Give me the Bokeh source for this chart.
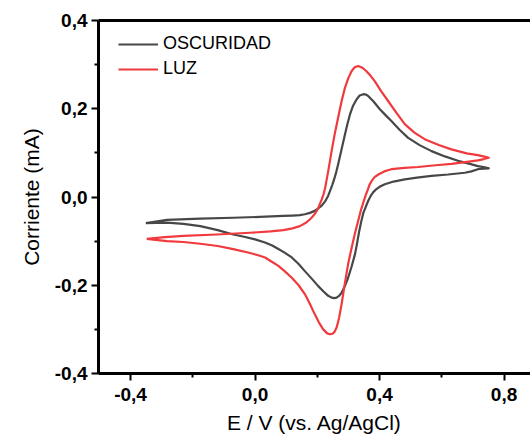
from bokeh.plotting import figure
from bokeh.models import LinearAxis, FixedTicker, CustomJSTickFormatter, Range1d
from bokeh.embed import file_html
from bokeh.resources import INLINE

# ---- data (E vs Ag/AgCl in V, current in mA) ----
dark_e = [-0.351, -0.283, -0.176, -0.070, 0.016, 0.090, 0.120, 0.144, 0.160, 0.176,
          0.190, 0.203, 0.215, 0.225,
          0.235, 0.241, 0.248, 0.255, 0.261, 0.267, 0.278, 0.289, 0.297, 0.305,
          0.315, 0.326, 0.336, 0.348, 0.357, 0.365, 0.380, 0.401, 0.420, 0.438,
          0.465, 0.492, 0.530, 0.567, 0.610, 0.652, 0.690, 0.716, 0.738, 0.751,
          0.735, 0.716, 0.695, 0.674, 0.620, 0.567, 0.520, 0.481, 0.445, 0.417,
          0.400, 0.390, 0.380, 0.372, 0.364, 0.356, 0.348, 0.341, 0.334, 0.327,
          0.321, 0.310, 0.299, 0.288, 0.278, 0.270, 0.262, 0.254, 0.246, 0.235,
          0.220, 0.203, 0.182, 0.160, 0.140, 0.118, 0.095, 0.075, 0.055, 0.032,
          0.000, -0.035, -0.070, -0.120, -0.176, -0.230, -0.283, -0.351]
dark_i = [-0.059, -0.052, -0.049, -0.047, -0.045, -0.043, -0.042, -0.041, -0.039, -0.036,
          -0.032, -0.026, -0.019, -0.010,
          0.003, 0.014, 0.027, 0.042, 0.057, 0.074, 0.108, 0.142, 0.166, 0.187,
          0.207, 0.221, 0.230, 0.233, 0.232, 0.228, 0.217, 0.199, 0.185, 0.172,
          0.152, 0.134, 0.117, 0.104, 0.092, 0.082, 0.075, 0.070, 0.067, 0.065,
          0.064, 0.063, 0.058, 0.055, 0.051, 0.048, 0.044, 0.040, 0.035, 0.029,
          0.023, 0.018, 0.011, 0.003, -0.008, -0.022, -0.036, -0.056, -0.080, -0.108,
          -0.130, -0.158, -0.183, -0.203, -0.217, -0.224, -0.228, -0.229, -0.228, -0.224,
          -0.214, -0.202, -0.185, -0.168, -0.152, -0.137, -0.126, -0.118, -0.110, -0.103,
          -0.096, -0.090, -0.085, -0.075, -0.066, -0.061, -0.058, -0.059]

luz_e = [-0.348, -0.290, -0.230, -0.123, -0.016, 0.050, 0.091, 0.120, 0.144, 0.162,
         0.176, 0.183, 0.190, 0.197, 0.203, 0.208, 0.214, 0.220, 0.225, 0.235,
         0.246, 0.256, 0.267, 0.278,
         0.289, 0.300, 0.310, 0.320, 0.331, 0.345, 0.358, 0.372, 0.385, 0.405,
         0.428, 0.455, 0.481, 0.512, 0.545, 0.590, 0.631, 0.680, 0.716, 0.740,
         0.751,
         0.735, 0.716, 0.675, 0.631, 0.580, 0.524, 0.480, 0.438, 0.415, 0.396,
         0.384, 0.375, 0.368, 0.362, 0.355, 0.348, 0.340, 0.331, 0.321, 0.310,
         0.299, 0.288, 0.278, 0.270, 0.262, 0.255, 0.248, 0.241, 0.232, 0.219,
         0.205, 0.192, 0.176, 0.160, 0.140, 0.118, 0.095, 0.075, 0.050, 0.032,
         0.010, -0.016, -0.070, -0.120, -0.176, -0.230, -0.283, -0.348]
luz_i = [-0.095, -0.091, -0.088, -0.085, -0.081, -0.078, -0.075, -0.071, -0.066, -0.059,
         -0.051, -0.046, -0.040, -0.033, -0.025, -0.016, -0.006, 0.006, 0.020, 0.058,
         0.104, 0.143, 0.180, 0.217,
         0.248, 0.270, 0.285, 0.294, 0.297, 0.293, 0.285, 0.274, 0.262, 0.240,
         0.217, 0.190, 0.165, 0.146, 0.131, 0.118, 0.108, 0.099, 0.095, 0.091,
         0.089,
         0.086, 0.083, 0.079, 0.075, 0.072, 0.068, 0.066, 0.063, 0.058, 0.051,
         0.045, 0.037, 0.028, 0.016, 0.003, -0.012, -0.030, -0.055, -0.082, -0.116,
         -0.152, -0.198, -0.243, -0.274, -0.296, -0.306, -0.310, -0.311, -0.309, -0.300,
         -0.284, -0.266, -0.242, -0.220, -0.200, -0.183, -0.168, -0.156, -0.145, -0.137,
         -0.132, -0.127, -0.118, -0.111, -0.106, -0.102, -0.100, -0.095]

x_ticks = [-0.4, 0.0, 0.4, 0.8]
x_minor = [-0.2, 0.2, 0.6]
y_ticks = [-0.4, -0.2, 0.0, 0.2, 0.4]
y_minor = [-0.3, -0.1, 0.1, 0.3]

DARK = "#474747"
RED = "#f03a3e"
FONT = "Liberation Sans"

p = figure(width=530, height=443, output_backend="svg", toolbar_location=None,
           x_range=Range1d(-0.503, 0.885), y_range=Range1d(-0.4, 0.4),
           min_border_left=98, min_border_right=0, min_border_top=20, min_border_bottom=70,
           x_axis_label="E / V (vs. Ag/AgCl)", y_axis_label="Corriente (mA)")
p.outline_line_color = None
p.xgrid.visible = False
p.ygrid.visible = False
p.background_fill_color = "white"
p.border_fill_color = "white"

p.line(dark_e, dark_i, line_color=DARK, line_width=2.2, line_join="round",
       legend_label="OSCURIDAD")
p.line(luz_e, luz_i, line_color=RED, line_width=2.2, line_join="round",
       legend_label="LUZ")

fmt = CustomJSTickFormatter(code="return tick.toFixed(1).replace('.', ',');")

for ax, ticks, minor in ((p.xaxis[0], x_ticks, x_minor), (p.yaxis[0], y_ticks, y_minor)):
    ax.ticker = FixedTicker(ticks=ticks, minor_ticks=minor)
    ax.formatter = fmt
    ax.axis_line_width = 3
    ax.axis_line_color = "black"
    ax.major_tick_line_width = 2
    ax.major_tick_line_color = "black"
    ax.minor_tick_line_width = 2
    ax.minor_tick_line_color = "black"
    ax.major_tick_out = 7
    ax.major_tick_in = 0
    ax.minor_tick_out = 4
    ax.minor_tick_in = 0
    ax.major_label_text_font = FONT
    ax.major_label_text_font_style = "bold"
    ax.major_label_text_font_size = "19px"
    ax.major_label_text_color = "black"
    ax.axis_label_text_font = FONT
    ax.axis_label_text_font_style = "normal"
    ax.axis_label_text_font_size = "21px"
    ax.axis_label_text_color = "black"

p.xaxis[0].major_label_standoff = 7
p.xaxis[0].axis_label_standoff = 7
p.yaxis[0].major_label_standoff = 4
p.yaxis[0].axis_label_standoff = 9

top = LinearAxis(ticker=FixedTicker(ticks=[]), axis_line_width=3, axis_line_color="black",
                 major_tick_line_color=None, minor_tick_line_color=None,
                 major_label_text_font_size="0px", major_label_standoff=0)
p.add_layout(top, "above")

lg = p.legend[0]
lg.location = (20, 294)
lg.padding = 0
lg.margin = 0
lg.spacing = 4
lg.glyph_width = 40
lg.glyph_height = 20
lg.label_height = 20
lg.label_standoff = 5
lg.label_text_font = FONT
lg.label_text_font_size = "18px"
lg.label_text_color = "black"
lg.border_line_color = None
lg.background_fill_alpha = 0

open("out.html", "w").write(file_html(p, INLINE))
